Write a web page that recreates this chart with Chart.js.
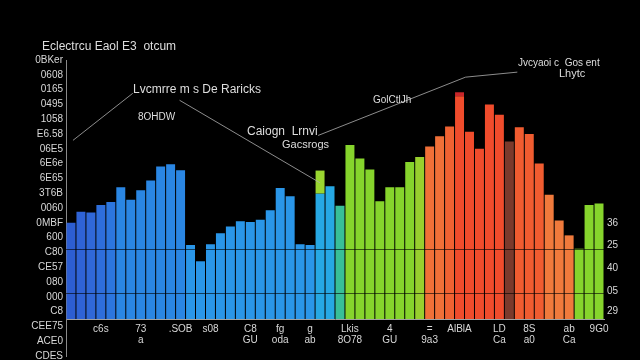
<!DOCTYPE html>
<html>
<head>
<meta charset="utf-8">
<script src="https://cdn.jsdelivr.net/npm/chart.js@4.4.0/dist/chart.umd.min.js"></script>
<style>
    html, body { margin: 0; padding: 0; background: #000; overflow: hidden; }
    #wrap { width: 640px; height: 365px; }
</style>
</head>
<body>
<div id="wrap"><canvas id="myChart"></canvas></div>
<script>
// bar heights, one per category
const values = [
    65, 72.5, 72, 77, 79, 89, 80.5, 87, 93.5, 103, 104.5, 100.5,
    50, 39, 50.5, 58, 62.5, 66, 65.5, 67, 73.5, 88.5, 83, 50.5, 50,
    84.7, 89.7, 76.5, 117.5, 108.5, 101, 79.5, 89, 89, 106, 109.5,
    116.5, 123.5, 130, 150.5, 126.5, 115, 145, 138, 120, 129.5, 125,
    105, 84, 66.5, 56.5, 47.5, 77, 78
];

// x labels (most slots unlabeled)
const categories = [
    '', '', '', 'c6s', '', '', '', ['73', 'a'], '', '', '', '.SOB', '', '',
    's08', '', '', '', ['C8', 'GU'], '', '', ['fg', 'oda'], '', '', ['g', 'ab'],
    '', '', '', ['Lkis', '8O78'], '', '', '', ['4', 'GU'], '', '', '',
    ['=', '9a3'], '', '', 'AlBlA', '', '', '', ['LD', 'Ca'], '', '', ['8S', 'a0'],
    '', '', '', ['ab', 'Ca'], '', '', '9G0'
];

const yTickValues = [-25, -15, -5, 5, 15, 25, 35, 45, 55, 65, 75, 85, 95, 105, 115, 125, 135, 145, 155, 165, 175];
const yTickLabels = ['CDES', 'ACE0', 'CEE75', 'C8', '000', '080', 'CE57', 'C80', '600', '0MBF', '0060',
    '3T6B', '6E65', '6E6e', '06E5', 'E6.58', '1058', '0495', '0165', '0608', '0BKer'];

const rightTickValues = [5, 19, 34.5, 49.5, 65];
const rightTickLabels = ['29', '05', '40', '25', '36'];

const gridValues = [17.5, 47.5];

// small caps sitting on top of two bars
const capIndex = [25, 39];
const capLow = [84.7, 150.5];
const capHigh = [100.3, 153.2];

const title = 'Eclectrcu Eaol E3  otcum';
const notes = [
    {text: 'Lvcmrre m s De Raricks', x: 133, y: 90, size: 12},
    {text: '8OHDW', x: 138, y: 117, size: 10},
    {text: 'Caiogn  Lrnvi', x: 247, y: 132, size: 12},
    {text: 'Gacsrogs', x: 282, y: 145, size: 11},
    {text: 'GolCtlJh', x: 373, y: 100, size: 10},
    {text: 'Jvcyaoi c  Gos ent', x: 518, y: 63, size: 10},
    {text: 'Lhytc', x: 559, y: 74, size: 11}
];
// connector lines, points as [category index, value]
const connectors = [
    [[0.2, 120.7], [6.2, 152.5]],
    [[10.9, 147.8], [25, 92]],
    [[24.8, 124], [39.6, 163.4], [44.8, 166.8]]
];

function barColor(i) {
    if (i < 5) return ['#2d5ed2', '#2f63d6', '#3068d8', '#2e6edb', '#2c76de'][i];
    if (i < 12) return '#2a86e3';
    if (i < 25) return '#2a96e8';
    if (i < 27) return '#26a8e4';
    if (i === 27) return '#38bf98';
    if (i < 35) return '#86d42c';
    if (i === 35) return '#98cf2e';
    if (i === 44) return '#7a3a2c';
    if (i < 38) return '#f07038';
    if (i === 38) return '#f06232';
    if (i < 44) return '#f04c2c';
    if (i < 48) return '#f05c30';
    if (i < 51) return '#f07a3c';
    return '#86d42c';
}

const capData = values.map(() => null);
capIndex.forEach((idx, k) => { capData[idx] = [capLow[k], capHigh[k]]; });
const capColors = values.map(() => 'rgba(0,0,0,0)');
capColors[capIndex[0]] = '#9ad630';
capColors[capIndex[1]] = '#c8262a';

const notesPlugin = {
    id: 'notes',
    afterDraw(chart) {
        const ctx = chart.ctx;
        const x = chart.scales.x, y = chart.scales.y;
        ctx.save();
        ctx.strokeStyle = '#b0b0b0';
        ctx.lineWidth = 0.8;
        connectors.forEach(pts => {
            ctx.beginPath();
            pts.forEach((p, k) => {
                const px = x.getPixelForValue(p[0]), py = y.getPixelForValue(p[1]);
                if (k === 0) ctx.moveTo(px, py); else ctx.lineTo(px, py);
            });
            ctx.stroke();
        });
        // dark grid lines over the bars
        ctx.strokeStyle = 'rgba(0,0,0,0.6)';
        ctx.lineWidth = 1;
        gridValues.forEach(v => {
            const py = Math.round(y.getPixelForValue(v)) + 0.5;
            ctx.beginPath();
            ctx.moveTo(chart.chartArea.left, py);
            ctx.lineTo(chart.chartArea.right, py);
            ctx.stroke();
        });
        ctx.fillStyle = '#dedede';
        ctx.textBaseline = 'middle';
        ctx.font = '12px "Liberation Sans", sans-serif';
        ctx.fillText(title, 42, 47);
        notes.forEach(n => {
            ctx.font = n.size + 'px "Liberation Sans", sans-serif';
            ctx.fillText(n.text, n.x, n.y);
        });
        ctx.restore();
    }
};

const ctx = document.getElementById('myChart');
new Chart(ctx, {
    type: 'bar',
    data: {
        labels: categories,
        datasets: [{
                label: 'values',
                data: values,
                backgroundColor: values.map((v, i) => barColor(i)),
                borderWidth: 0,
                grouped: false,
                barPercentage: 0.9,
                categoryPercentage: 1.0
            },
            {
                label: 'caps',
                data: capData,
                backgroundColor: capColors,
                borderWidth: 0,
                grouped: false,
                barPercentage: 0.9,
                categoryPercentage: 1.0
            }]
    },
    plugins: [notesPlugin],
    options: {
        responsive: true,
        maintainAspectRatio: false,
        animation: false,
        devicePixelRatio: 1,
        layout: {padding: {top: 60, left: 0, right: 0, bottom: 0}},
        plugins: {
            legend: {display: false},
            tooltip: {enabled: false}
        },
        scales: {
            x: {
                type: 'category',
                axis: 'x',
                position: {y: 0},
                offset: true,
                grid: {display: false, drawTicks: false},
                border: {display: true, color: '#a0a0a0'},
                ticks: {
                    color: '#d8d8d8',
                    font: {size: 10, family: 'Liberation Sans', lineHeight: 1.15},
                    autoSkip: false,
                    maxRotation: 0,
                    padding: 4
                }
            },
            y: {
                type: 'linear',
                position: 'left',
                min: -25,
                max: 175,
                afterBuildTicks: s => { s.ticks = yTickValues.map(v => ({value: v})); },
                afterFit: s => { s.width = 66; },
                grid: {display: false, drawTicks: false},
                border: {display: true, color: '#8a8a8a'},
                ticks: {
                    color: '#d8d8d8',
                    font: {size: 10, family: 'Liberation Sans'},
                    padding: 3,
                    autoSkip: false,
                    callback: (v, i) => yTickLabels[i]
                }
            },
            yr: {
                type: 'linear',
                position: 'right',
                min: -25,
                max: 175,
                afterBuildTicks: s => { s.ticks = rightTickValues.map(v => ({value: v})); },
                afterFit: s => { s.width = 36; },
                grid: {display: false, drawTicks: false},
                border: {display: false},
                ticks: {
                    color: '#d8d8d8',
                    font: {size: 10, family: 'Liberation Sans'},
                    padding: 3,
                    autoSkip: false,
                    callback: (v, i) => rightTickLabels[i]
                }
            }
        }
    }
});
</script>
</body>
</html>
